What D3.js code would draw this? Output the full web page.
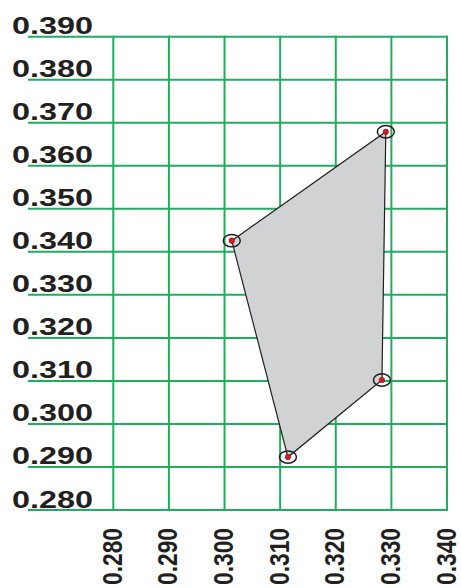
<!DOCTYPE html>
<html>
<head>
<meta charset="utf-8">
<script src="https://cdn.jsdelivr.net/npm/d3@7"></script>
<style>
  html, body { margin: 0; padding: 0; background: #fff; }
  svg { display: block; }
  .tick-label { font-family: "Liberation Sans", Arial, sans-serif; font-weight: bold; fill: #231f20; }
</style>
</head>
<body>
<div id="chart"></div>
<script>
// chart data
const xTicks = [0.280, 0.290, 0.300, 0.310, 0.320, 0.330, 0.340];
const yTicks = [0.280, 0.290, 0.300, 0.310, 0.320, 0.330, 0.340, 0.350, 0.360, 0.370, 0.380, 0.390];
const pointX = [0.3013, 0.3290, 0.3283, 0.3114];
const pointY = [0.3426, 0.3679, 0.3102, 0.2923];

const width = 461, height = 588;

const svg = d3.select("#chart")
    .append("svg")
    .attr("width", width)
    .attr("height", height);

const x = d3.scaleLinear().domain([0.28, 0.34]).range([113.3, 447]);
const y = d3.scaleLinear().domain([0.28, 0.39]).range([510, 36.7]);

const gridColor = "#1fae5e";

// horizontal grid lines (run under the y labels)
svg.selectAll(".hline")
    .data(yTicks)
    .join("line")
    .attr("class", "hline")
    .attr("x1", 28)
    .attr("x2", x(0.34) + 1)
    .attr("y1", d => y(d))
    .attr("y2", d => y(d))
    .attr("stroke", gridColor)
    .attr("stroke-width", 2);

// vertical grid lines
svg.selectAll(".vline")
    .data(xTicks)
    .join("line")
    .attr("class", "vline")
    .attr("x1", d => x(d))
    .attr("x2", d => x(d))
    .attr("y1", y(0.39) - 1)
    .attr("y2", y(0.28) + 1)
    .attr("stroke", gridColor)
    .attr("stroke-width", 2);

// y labels, wide bold type sitting on the line
svg.selectAll(".ylabel")
    .data(yTicks)
    .join("text")
    .attr("class", "tick-label ylabel")
    .attr("x", 12)
    .attr("y", d => y(d) - 2.5)
    .attr("font-size", 24.5)
    .attr("textLength", 81)
    .attr("lengthAdjust", "spacingAndGlyphs")
    .text(d => d.toFixed(3));

// x labels, rotated, condensed
svg.selectAll(".xlabel")
    .data(xTicks)
    .join("text")
    .attr("class", "tick-label xlabel")
    .attr("transform", d => `translate(${x(d) + 8.5},585) rotate(-90)`)
    .attr("font-size", 28)
    .attr("textLength", 57)
    .attr("lengthAdjust", "spacingAndGlyphs")
    .text(d => d.toFixed(3));

const pts = pointX.map((px, i) => [x(px), y(pointY[i])]);

// shaded quadrilateral
svg.append("polygon")
    .attr("points", pts.map(p => p.join(",")).join(" "))
    .attr("fill", "#d1d2d4")
    .attr("stroke", "#231f20")
    .attr("stroke-width", 1.2);

// ring around each corner
svg.selectAll(".ring")
    .data(pts)
    .join("ellipse")
    .attr("class", "ring")
    .attr("cx", d => d[0])
    .attr("cy", d => d[1])
    .attr("rx", 8.5)
    .attr("ry", 6.2)
    .attr("fill", "none")
    .attr("stroke", "#231f20")
    .attr("stroke-width", 1.5);

svg.selectAll(".dot")
    .data(pts)
    .join("circle")
    .attr("class", "dot")
    .attr("cx", d => d[0])
    .attr("cy", d => d[1])
    .attr("r", 2.8)
    .attr("fill", "#d7191f")
    .attr("stroke", "#6b1a1a")
    .attr("stroke-width", 0.5);
</script>
</body>
</html>
